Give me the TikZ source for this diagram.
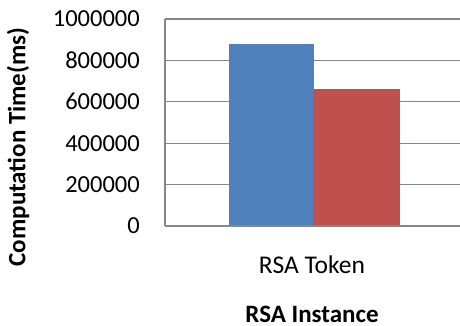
\documentclass[tikz,border=0pt]{standalone}
\usepackage{fontspec}
\setmainfont{Carlito}
\usetikzlibrary{positioning}
\definecolor{barblue}{HTML}{4F81BD}
\definecolor{barred}{HTML}{C0504D}
\definecolor{gridgray}{HTML}{868686}
\begin{document}
\begin{tikzpicture}[x=1pt,y=-1pt,font=\fontsize{24.5}{26}\selectfont]
\useasboundingbox (0,0) rectangle (460,326);
% grid and tick labels
\foreach \k/\v in {0/0,1/200000,2/400000,3/600000,4/800000,5/1000000}{
  \draw[gridgray,line width=1.3pt] (165,226-\k*41.4)--(460,226-\k*41.4);
  \node[anchor=east,inner sep=0pt] (t\k) at (140,226-\k*41.4) {\v};
}
\draw[gridgray,line width=1.3pt] (165,19)--(165,226);
% bars
\filldraw[barblue] (229,44) rectangle (313,226);
\filldraw[barred] (313,89) rectangle (399,226);
\draw[gridgray,line width=1.3pt] (165,226)--(460,226);
\node[anchor=base,inner sep=0pt,font=\fontsize{25.5}{27}\selectfont] (cat) at (312,273) {RSA Token};
\node[anchor=base,inner sep=0pt,font=\fontsize{25}{27}\selectfont\bfseries] (xlab) at (312,322) {RSA Instance};
\node[rotate=90,inner sep=0pt,font=\fontsize{25}{27}\selectfont\bfseries] (ylab) at (18,147) {Computation Time(ms)};
\end{tikzpicture}
\end{document}
